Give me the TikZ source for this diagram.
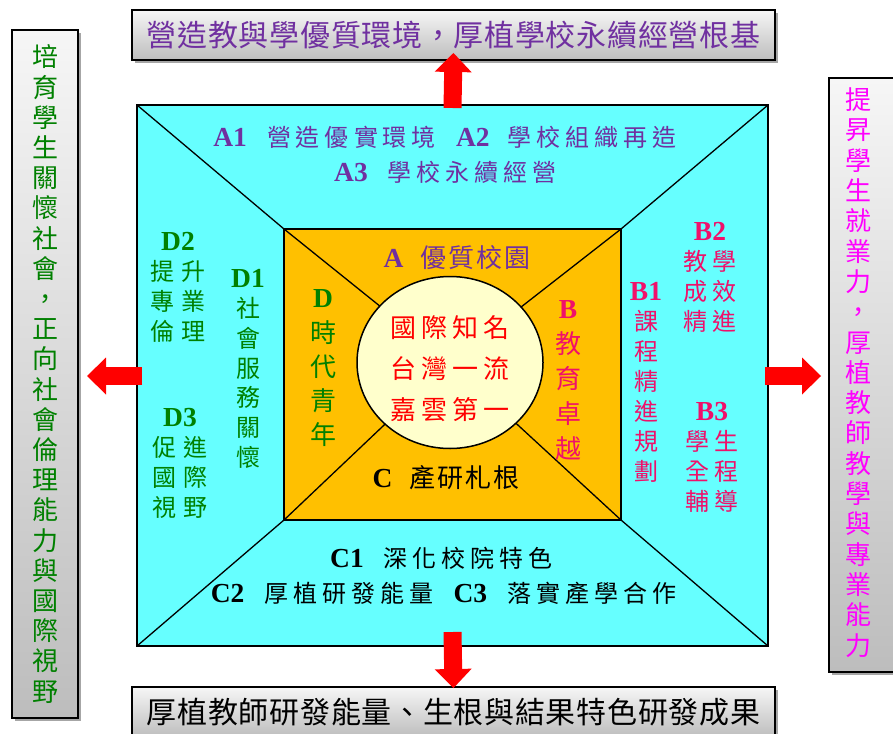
\documentclass[tikz,border=0pt]{standalone}
\usepackage{fontspec}
\setmainfont{Liberation Serif}
\newfontfamily\cjk{Noto Sans CJK TC}
\usetikzlibrary{shapes.geometric,arrows.meta,shadows,calc}
\definecolor{cyanF}{HTML}{66FFFF}
\definecolor{orangeF}{HTML}{FFC000}
\definecolor{creamF}{HTML}{FFFFCC}
\definecolor{purpleT}{HTML}{7030A0}
\definecolor{greenT}{HTML}{008000}
\definecolor{pinkT}{HTML}{F0106A}
\definecolor{redT}{HTML}{FF0000}
\definecolor{magT}{HTML}{FF00FF}
\definecolor{arrowRed}{HTML}{FF0000}
\definecolor{boxTop}{HTML}{F6F6F6}
\definecolor{boxBot}{HTML}{BDBDBD}
\makeatletter
\newdimen\cjkgap
\newcommand\setgap[1]{\global\cjkgap=#1\relax}
\def\spc#1{\spc@#1\relax}
\def\spc@#1{\ifx#1\relax\unkern\else#1\kern\cjkgap\expandafter\spc@\fi}
\makeatother
\newcommand\Lt[1]{{\rmfamily\bfseries\fontsize{27.5}{27.5}\selectfont #1}}
\newcommand\Gfont[3]{\cjk\fontsize{#1}{#2}\selectfont\setgap{#3}}
\begin{document}
\begin{tikzpicture}[x=1pt,y=-1pt,
  sqbox/.style={draw=black, line width=2pt, inner sep=0pt, outer sep=0pt},
  diag/.style={draw=black, line width=1.3pt},
  graybox/.style={draw=black, line width=1.3pt, top color=boxTop, bottom color=boxBot,
    inner sep=0pt, outer sep=0pt,
    drop shadow={shadow xshift=3pt, shadow yshift=-3pt, opacity=0.35, fill=black}},
  txt/.style={inner sep=0pt, outer sep=0pt, align=center},
  bigarrow/.style={draw=arrowRed, line width=18pt,
    -{Triangle[width=37pt,length=19pt,line width=0pt]}},
  outerfont/.style={font={\Gfont{24}{30}{5pt}}},
  innerfont/.style={font={\Gfont{26}{34}{2pt}}}
]
\useasboundingbox (0,0) rectangle (893,733);

% outside boxes
\node[graybox, minimum width=643pt, minimum height=50pt, text=purpleT,
  font={\Gfont{30}{30}{0.7pt}}] (topbox) at (453.5,35)
  {\spc{營造教與學優質環境，厚植學校永續經營根基}};
\node[graybox, minimum width=643pt, minimum height=50pt, text=black,
  font={\Gfont{30}{30}{0.7pt}}] (botbox) at (453.5,712)
  {\spc{厚植教師研發能量、生根與結果特色研發成果}};
\node[graybox, minimum width=66pt, minimum height=688pt, text=greenT,
  font={\Gfont{26}{30.2}{0pt}}, align=center] (leftbox) at (45,374)
  {培\\育\\學\\生\\關\\懷\\社\\會\\，\\正\\向\\社\\會\\倫\\理\\能\\力\\與\\國\\際\\視\\野};
\node[graybox, minimum width=76pt, minimum height=594pt] (rightbox) at (867,375) {};
\node[txt, text=magT, font={\Gfont{26}{30.3}{0pt}}] (righttext) at (858,372.5)
  {提\\昇\\學\\生\\就\\業\\力\\，\\厚\\植\\教\\師\\教\\學\\與\\專\\業\\能\\力};

% main square
\node[sqbox, fill=cyanF, minimum width=631pt, minimum height=541pt] (outer) at (452.5,375.5) {};
\node[sqbox, fill=orangeF, minimum width=337pt, minimum height=291pt] (inner) at (452.5,374.5) {};
\node[ellipse, draw=black, line width=1.5pt, fill=creamF, minimum width=186pt,
  minimum height=172pt, inner sep=0pt, outer sep=0pt] (hub) at (450,362.5) {};

\draw[diag] (outer.north west) -- (inner.north west);
\draw[diag] (outer.north east) -- (inner.north east);
\draw[diag] (outer.south west) -- (inner.south west);
\draw[diag] (outer.south east) -- (inner.south east);
\draw[diag] (inner.north west) -- (hub);
\draw[diag] (inner.north east) -- (hub);
\draw[diag] (inner.south west) -- (hub);
\draw[diag] (inner.south east) -- (hub);

% arrows
\draw[bigarrow] ($(outer.north)+(0,3)$) -- ($(topbox.south)+(0,-7)$);
\draw[bigarrow] ($(outer.south)+(0,-14)$) -- ($(botbox.north)+(0,1)$);
\draw[bigarrow] ($(outer.west)+(5,0.5)$) -- ($(outer.west -| leftbox.east)+(9,0.5)$);
\draw[bigarrow] ($(outer.east)+(-3,0.5)$) -- ($(outer.east -| rightbox.west)+(-8,0.5)$);

% outer ring texts
\node[txt, outerfont, text=purpleT] (a1line) at (445,137)
  {\Lt{A1}\hspace{20pt}\spc{營造優實環境}\hspace{20pt}\Lt{A2}\hspace{18pt}\spc{學校組織再造}};
\node[txt, outerfont, text=purpleT] (a3line) at (445.5,172)
  {\Lt{A3}\hspace{20pt}\spc{學校永續經營}};
\node[txt, outerfont, text=black] (c1line) at (441.5,558)
  {\Lt{C1}\hspace{20pt}\spc{深化校院特色}};
\node[txt, outerfont, text=black] (c2line) at (443.5,593)
  {\Lt{C2}\hspace{20pt}\spc{厚植研發能量}\hspace{20pt}\Lt{C3}\hspace{20pt}\spc{落實產學合作}};

\node[txt, text=greenT, font={\Gfont{24}{30}{7pt}}] (d2) at (178,287)
  {\Lt{D2}\\\spc{提升}\\\spc{專業}\\\spc{倫理}};
\node[txt, text=greenT, font={\Gfont{24}{30}{7pt}}] (d3) at (180,463)
  {\Lt{D3}\\\spc{促進}\\\spc{國際}\\\spc{視野}};
\node[txt, text=greenT, font={\Gfont{24}{29.7}{0pt}}] (d1) at (248,369)
  {\Lt{D1}\\社\\會\\服\\務\\關\\懷};

\node[txt, text=pinkT, font={\Gfont{24}{30}{0pt}}] (b1) at (646,382)
  {\Lt{B1}\\課\\程\\精\\進\\規\\劃};
\node[txt, text=pinkT, font={\Gfont{24}{30}{6pt}}] (b2) at (710,277.5)
  {\Lt{B2}\\\spc{教學}\\\spc{成效}\\\spc{精進}};
\node[txt, text=pinkT, font={\Gfont{24}{30}{6pt}}] (b3) at (712,457)
  {\Lt{B3}\\\spc{學生}\\\spc{全程}\\\spc{輔導}};

% inner square texts
\node[txt, innerfont, text=purpleT] (alabel) at (457,258)
  {\Lt{A}\hspace{17pt}\spc{優質校園}};
\node[txt, innerfont, text=black] (clabel) at (446,478)
  {\Lt{C}\hspace{17pt}\spc{產研札根}};
\node[txt, text=greenT, font={\Gfont{26}{34.25}{0pt}}] (dlabel) at (323,368.5)
  {\Lt{D}\\時\\代\\青\\年};
\node[txt, text=pinkT, font={\Gfont{26}{35}{0pt}}] (blabel) at (568,380)
  {\Lt{B}\\教\\育\\卓\\越};

% hub text
\node[txt, text=redT, font={\Gfont{26}{41}{5pt}}] (hubtext) at (450,368.5)
  {\spc{國際知名}\\\spc{台灣一流}\\\spc{嘉雲第一}};
\end{tikzpicture}
\end{document}
